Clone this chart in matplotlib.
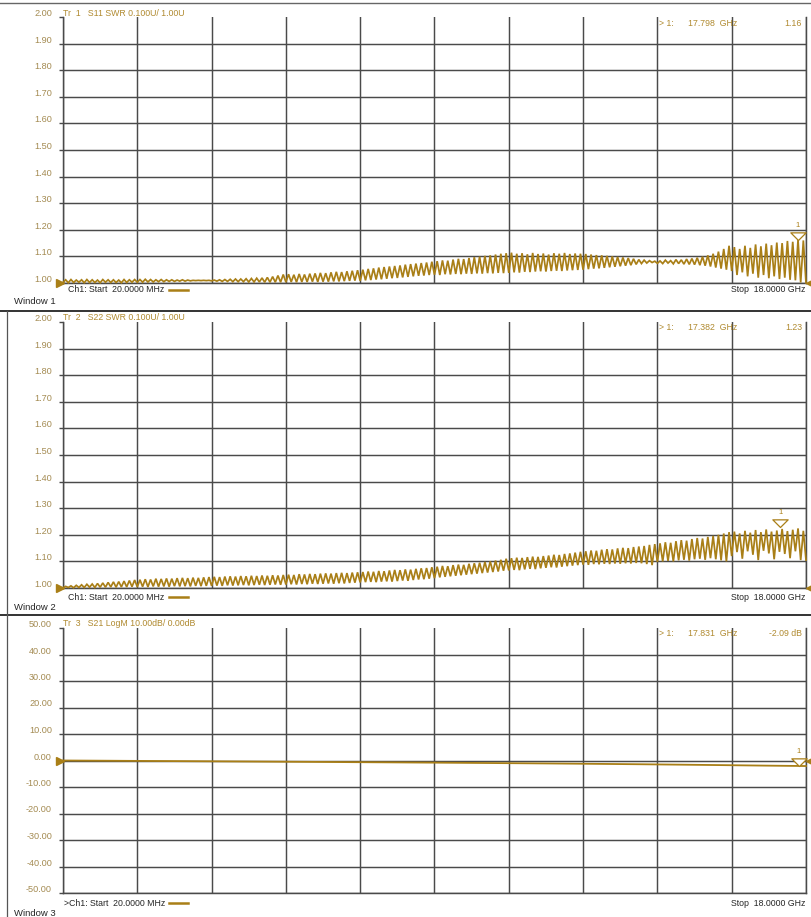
import numpy as np
import matplotlib
matplotlib.use("Agg")
import matplotlib.pyplot as plt
from matplotlib.transforms import ScaledTranslation, blended_transform_factory
from matplotlib.path import Path
from matplotlib.lines import Line2D

# ---------------- data ----------------
f_start_ghz = 0.02
f_stop_ghz = 18.0

swr_ticks = [1.00, 1.10, 1.20, 1.30, 1.40, 1.50, 1.60, 1.70, 1.80, 1.90, 2.00]
swr_tick_labels = ["1.00", "1.10", "1.20", "1.30", "1.40", "1.50", "1.60", "1.70", "1.80", "1.90", "2.00"]
db_ticks = [-50, -40, -30, -20, -10, 0, 10, 20, 30, 40, 50]
db_tick_labels = ["-50.00", "-40.00", "-30.00", "-20.00", "-10.00", "0.00", "10.00", "20.00", "30.00", "40.00", "50.00"]

# S11 SWR ripple: peak and trough values (14 per division)
s11_peaks = [
    1.012, 1.013, 1.011, 1.012, 1.013, 1.012, 1.011, 1.013, 1.012, 1.012, 1.011, 1.013, 1.012, 1.013,
    1.013, 1.014, 1.013, 1.012, 1.013, 1.012, 1.012, 1.011, 1.012, 1.011, 1.010, 1.010, 1.010, 1.010,
    1.011, 1.012, 1.013, 1.014, 1.015, 1.015, 1.016, 1.017, 1.018, 1.019, 1.021, 1.024, 1.028, 1.032,
    1.033, 1.031, 1.034, 1.032, 1.035, 1.036, 1.038, 1.037, 1.040, 1.042, 1.041, 1.044, 1.046, 1.048,
    1.050, 1.053, 1.055, 1.058, 1.060, 1.062, 1.064, 1.066, 1.069, 1.071, 1.073, 1.075, 1.077, 1.080,
    1.082, 1.085, 1.084, 1.088, 1.091, 1.090, 1.094, 1.097, 1.099, 1.102, 1.104, 1.107, 1.110, 1.112,
    1.114, 1.110, 1.112, 1.108, 1.113, 1.109, 1.111, 1.107, 1.112, 1.110, 1.113, 1.109, 1.111, 1.110,
    1.109, 1.107, 1.105, 1.104, 1.102, 1.100, 1.098, 1.096, 1.094, 1.091, 1.088, 1.086, 1.084, 1.082,
    1.083, 1.086, 1.084, 1.088, 1.087, 1.090, 1.092, 1.095, 1.099, 1.104, 1.110, 1.118, 1.128, 1.140,
    1.135, 1.128, 1.140, 1.132, 1.145, 1.138, 1.148, 1.142, 1.152, 1.150, 1.158, 1.155, 1.162, 1.160,
]
s11_troughs = [
    1.002, 1.001, 1.002, 1.003, 1.001, 1.002, 1.002, 1.001, 1.003, 1.002, 1.002, 1.001, 1.002, 1.003,
    1.003, 1.003, 1.004, 1.004, 1.005, 1.005, 1.006, 1.006, 1.007, 1.007, 1.008, 1.009, 1.009, 1.009,
    1.008, 1.007, 1.006, 1.006, 1.005, 1.005, 1.005, 1.004, 1.004, 1.004, 1.003, 1.003, 1.003, 1.003,
    1.003, 1.004, 1.003, 1.004, 1.004, 1.005, 1.004, 1.005, 1.005, 1.006, 1.006, 1.007, 1.008, 1.009,
    1.008, 1.010, 1.011, 1.013, 1.014, 1.016, 1.018, 1.019, 1.021, 1.023, 1.025, 1.027, 1.028, 1.030,
    1.031, 1.030, 1.033, 1.032, 1.034, 1.033, 1.035, 1.034, 1.036, 1.035, 1.037, 1.036, 1.038, 1.037,
    1.038, 1.040, 1.039, 1.042, 1.041, 1.043, 1.044, 1.043, 1.045, 1.046, 1.045, 1.047, 1.048, 1.049,
    1.050, 1.052, 1.054, 1.055, 1.057, 1.059, 1.061, 1.063, 1.065, 1.067, 1.070, 1.073, 1.075, 1.077,
    1.074, 1.073, 1.075, 1.072, 1.073, 1.071, 1.070, 1.069, 1.067, 1.065, 1.062, 1.058, 1.054, 1.050,
    1.045, 1.030, 1.040, 1.025, 1.035, 1.020, 1.030, 1.018, 1.025, 1.015, 1.020, 1.012, 1.010, 1.002,
]
s11_end = 1.000

# S22 SWR ripple
s22_peaks = [
    1.006, 1.008, 1.010, 1.012, 1.014, 1.015, 1.017, 1.019, 1.021, 1.023, 1.024, 1.026, 1.028, 1.030,
    1.031, 1.033, 1.032, 1.035, 1.034, 1.036, 1.035, 1.037, 1.038, 1.037, 1.039, 1.038, 1.040, 1.041,
    1.042, 1.041, 1.043, 1.044, 1.043, 1.045, 1.044, 1.046, 1.045, 1.047, 1.046, 1.048, 1.047, 1.049,
    1.050, 1.049, 1.052, 1.051, 1.053, 1.052, 1.054, 1.055, 1.054, 1.056, 1.057, 1.056, 1.058, 1.059,
    1.060, 1.062, 1.061, 1.064, 1.063, 1.066, 1.068, 1.067, 1.070, 1.069, 1.072, 1.074, 1.075, 1.078,
    1.080, 1.083, 1.082, 1.086, 1.088, 1.087, 1.091, 1.093, 1.095, 1.098, 1.100, 1.103, 1.106, 1.110,
    1.112, 1.114, 1.113, 1.116, 1.118, 1.117, 1.120, 1.122, 1.125, 1.124, 1.128, 1.130, 1.133, 1.136,
    1.138, 1.141, 1.140, 1.144, 1.146, 1.145, 1.149, 1.151, 1.150, 1.154, 1.156, 1.158, 1.162, 1.165,
    1.168, 1.172, 1.170, 1.176, 1.180, 1.178, 1.184, 1.188, 1.186, 1.192, 1.196, 1.200, 1.205, 1.210,
    1.212, 1.205, 1.215, 1.208, 1.218, 1.210, 1.220, 1.212, 1.216, 1.222, 1.214, 1.219, 1.224, 1.215,
]
s22_troughs = [
    1.001, 1.002, 1.001, 1.002, 1.002, 1.003, 1.002, 1.003, 1.003, 1.004, 1.003, 1.004, 1.004, 1.005,
    1.004, 1.005, 1.004, 1.006, 1.005, 1.006, 1.005, 1.007, 1.006, 1.007, 1.006, 1.008, 1.007, 1.008,
    1.008, 1.009, 1.008, 1.010, 1.009, 1.010, 1.011, 1.010, 1.011, 1.012, 1.011, 1.012, 1.013, 1.012,
    1.013, 1.014, 1.013, 1.015, 1.014, 1.016, 1.015, 1.016, 1.017, 1.016, 1.018, 1.017, 1.019, 1.020,
    1.021, 1.022, 1.023, 1.022, 1.024, 1.025, 1.024, 1.026, 1.028, 1.027, 1.030, 1.032, 1.033, 1.035,
    1.037, 1.040, 1.042, 1.044, 1.046, 1.048, 1.050, 1.052, 1.054, 1.056, 1.058, 1.060, 1.062, 1.065,
    1.066, 1.068, 1.067, 1.070, 1.072, 1.071, 1.074, 1.076, 1.078, 1.077, 1.080, 1.082, 1.084, 1.086,
    1.088, 1.087, 1.090, 1.089, 1.091, 1.090, 1.092, 1.091, 1.093, 1.092, 1.094, 1.093, 1.090, 1.086,
    1.098, 1.100, 1.102, 1.100, 1.104, 1.106, 1.103, 1.108, 1.110, 1.106, 1.112, 1.108, 1.104, 1.100,
    1.120, 1.135, 1.110, 1.138, 1.125, 1.105, 1.140, 1.130, 1.108, 1.136, 1.128, 1.112, 1.138, 1.105,
]
s22_end = 1.105

# S21 LogM (dB), sampled about every 1 GHz
s21_db = [0.00, -0.08, -0.17, -0.25, -0.34, -0.43, -0.52, -0.62, -0.71, -0.81,
          -0.92, -1.03, -1.15, -1.28, -1.42, -1.58, -1.75, -1.93, -2.09]

marker_freq_ghz = [17.798, 17.382, 17.831]
marker_value = [1.16, 1.23, -2.09]
marker_value_text = ["1.16", "1.23", "-2.09 dB"]
marker_freq_text = ["17.798  GHz", "17.382  GHz", "17.831  GHz"]
trace_titles = ["Tr  1   S11 SWR 0.100U/ 1.00U", "Tr  2   S22 SWR 0.100U/ 1.00U", "Tr  3   S21 LogM 10.00dB/ 0.00dB"]
start_texts = ["Ch1: Start  20.0000 MHz", "Ch1: Start  20.0000 MHz", ">Ch1: Start  20.0000 MHz"]
stop_text = "Stop  18.0000 GHz"
window_names = ["Window 1", "Window 2", "Window 3"]

# ---------------- style ----------------
W, H = 812, 917
GOLD = "#a97f17"
TICK_TXT = "#a48b52"
TITLE_TXT = "#b08a30"
GRID = "#4a4a4a"
DARK = "#262626"
FONT = "Liberation Sans"
FS = 6.3

fig = plt.figure(figsize=(W / 100, H / 100), dpi=100)
fig.patch.set_facecolor("white")


def fx(x):
    return x / W


def fy(y):
    return 1 - y / H


def ripple(troughs, peaks, end):
    v = np.ravel(np.column_stack([troughs, peaks]))
    return np.append(v, end)


traces = [ripple(s11_troughs, s11_peaks, s11_end),
          ripple(s22_troughs, s22_peaks, s22_end),
          np.array(s21_db)]

# pixel layout of each panel: (top, bottom) of plot area
panel_px = [(17, 283), (322, 588), (628, 893)]
left_px, right_px = 63, 806
start_y = [290, 597, 903]
window_y = [302, 607, 913]
start_x = [68, 68, 64]

for i in range(3):
    top, bot = panel_px[i]
    ax = fig.add_axes([fx(left_px), fy(bot), (right_px - left_px) / W, (bot - top) / H])
    ax.set_facecolor("white")
    ax.set_xlim(f_start_ghz, f_stop_ghz)
    if i < 2:
        ticks, labels = swr_ticks, swr_tick_labels
        ax.set_ylim(1.0, 2.0)
        ref = 1.0
    else:
        ticks, labels = db_ticks, db_tick_labels
        ax.set_ylim(-50, 50)
        ref = 0.0
    ax.set_xticks(np.linspace(f_start_ghz, f_stop_ghz, 11))
    ax.set_yticks(ticks)
    ax.grid(True, color=GRID, lw=1.05)
    ax.tick_params(axis="x", length=0, labelbottom=False)
    ax.tick_params(axis="y", length=3, width=1.0, color=GRID, labelleft=False)
    for s in ["left", "right", "bottom"]:
        ax.spines[s].set_color(GRID)
        ax.spines[s].set_linewidth(1.05)
    ax.spines["top"].set_visible(False)
    ax.get_ygridlines()[-1].set_visible(False)

    # tick labels, slightly above gridline
    trans_lbl = blended_transform_factory(ax.transAxes, ax.transData)
    for t, lab in zip(ticks, labels):
        ax.text(0, t, lab, transform=trans_lbl + ScaledTranslation(-11 / 100, 3.5 / 100, fig.dpi_scale_trans),
                ha="right", va="center", fontsize=6.6, color=TICK_TXT, family=FONT)

    # trace
    y = traces[i]
    x = np.linspace(f_start_ghz, f_stop_ghz, len(y))
    ax.plot(x, y, color=GOLD, lw=1.25 if i < 2 else 1.3, solid_joinstyle="miter", zorder=3, clip_on=False)

    # reference triangles
    tr_l = blended_transform_factory(ax.transAxes, ax.transData)
    ax.plot([0], [ref], marker=">", ms=6, color=GOLD, mec=GOLD, clip_on=False,
            transform=tr_l + ScaledTranslation(-3 / 100, 0, fig.dpi_scale_trans), zorder=4)
    ax.plot([1], [ref], marker="<", ms=6, color=GOLD, mec=GOLD, clip_on=False,
            transform=tr_l + ScaledTranslation(4 / 100, 0, fig.dpi_scale_trans), zorder=4)

    # marker
    tri = Path([(-1, 1), (1, 1), (0, 0), (-1, 1)], [Path.MOVETO, Path.LINETO, Path.LINETO, Path.CLOSEPOLY])
    ax.plot([marker_freq_ghz[i]], [marker_value[i]], marker=tri, ms=11, mfc="white", mec=GOLD, mew=0.9,
            clip_on=False, zorder=5, ls="none")
    ax.text(marker_freq_ghz[i], marker_value[i], "1",
            transform=ax.transData + ScaledTranslation(0, 11 / 100, fig.dpi_scale_trans),
            ha="center", va="bottom", fontsize=5.5, color=GOLD, family=FONT)

    # header texts
    fig.text(fx(63), fy(top - 4), trace_titles[i], ha="left", va="center", fontsize=FS, color=TITLE_TXT, family=FONT)
    fig.text(fx(659), fy(top + 6), "> 1:", ha="left", va="center", fontsize=FS, color=TITLE_TXT, family=FONT)
    fig.text(fx(688), fy(top + 6), marker_freq_text[i], ha="left", va="center", fontsize=FS, color=TITLE_TXT, family=FONT)
    fig.text(fx(802), fy(top + 6), marker_value_text[i], ha="right", va="center", fontsize=FS, color=TITLE_TXT, family=FONT)

    # footer texts
    fig.text(fx(start_x[i]), fy(start_y[i]), start_texts[i], ha="left", va="center", fontsize=FS, color=DARK, family=FONT)
    fig.add_artist(Line2D([fx(169), fx(188)], [fy(start_y[i]), fy(start_y[i])], color=GOLD, lw=1.8))
    fig.text(fx(805), fy(start_y[i]), stop_text, ha="right", va="center", fontsize=FS, color=DARK, family=FONT)
    fig.text(fx(14), fy(window_y[i]), window_names[i], ha="left", va="center", fontsize=6.8, color=DARK, family=FONT)

# window separators / frame
for yy in [311, 615]:
    fig.add_artist(Line2D([0, 1], [fy(yy), fy(yy)], color="#333333", lw=1.4))
fig.add_artist(Line2D([0, 1], [fy(3), fy(3)], color="#666666", lw=1.0))
fig.add_artist(Line2D([fx(7), fx(7)], [fy(311), 0], color="#555555", lw=0.9))

fig.savefig("out.png", dpi=100, facecolor="white")
